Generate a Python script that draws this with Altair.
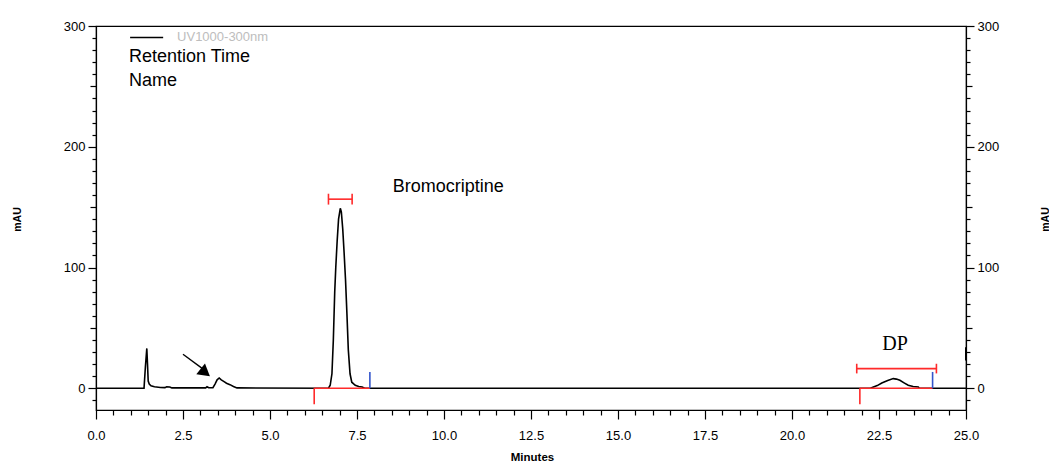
import altair as alt
import pandas as pd

# ---- chromatogram trace (minutes, mAU) ----
trace_t = [0.0, 1.38, 1.42, 1.46, 1.48, 1.50, 1.53, 1.58, 1.68, 1.85, 1.98, 2.03, 2.12, 2.18,
           3.15, 3.19, 3.24, 3.36, 3.42, 3.48, 3.54, 3.60, 3.68, 3.75, 3.85, 3.95, 4.05,
           6.68, 6.73, 6.78, 6.82, 6.86, 6.89, 6.93, 6.97, 7.02, 7.05, 7.09, 7.13, 7.17, 7.21,
           7.25, 7.30, 7.35, 7.45, 7.55, 7.65, 7.72,
           22.25, 22.34, 22.45, 22.58, 22.75, 22.91, 23.0, 23.1, 23.22, 23.34, 23.48, 23.63, 23.66,
           25.0]
trace_v = [0.0, 0.0, 18.0, 33.0, 20.0, 6.0, 3.5, 2.0, 1.2, 0.6, 0.5, 1.3, 1.1, 0.3,
           0.3, 1.2, 0.4, 0.5, 3.5, 7.0, 8.5, 7.0, 5.5, 4.2, 3.0, 1.5, 0.3,
           0.0, 2.5, 12.0, 40.0, 80.0, 100.0, 122.0, 140.0, 149.0, 146.0, 132.0, 112.0, 90.0, 62.0,
           32.0, 12.0, 5.0, 2.5, 1.5, 1.0, 0.0,
           0.0, 1.0, 2.2, 4.4, 6.5, 8.0, 7.6, 6.6, 4.5, 2.5, 1.4, 1.0, 0.0,
           0.0]

# ---- integration marks ----
base_start = [6.27, 21.95]        # red baseline start (with red drop tick)
base_end = [7.87, 24.04]          # baseline end (blue tick)
drop_low = [-13.3, -13.3]
blue_top = [13.5, 13.5]
bar_left = [6.68, 21.86]          # red retention-window bars
bar_right = [7.36, 24.15]
bar_level = [156.6, 16.3]
cap_half = [4.5, 4.0]

# ---- annotations ----
label_text = ["Bromocriptine", "DP"]
label_t = [8.53, 22.96]
label_v = [167.0, 37.0]
arrow_t = [2.5, 3.05]
arrow_v = [28.2, 16.5]
arrowhead_t = [3.14]
arrowhead_v = [13.0]
edge_t = [25.0]
edge_v = [23.0]
edge_v2 = [34.0]

legend_line_t = [0.98]
legend_line_t2 = [1.93]
legend_line_v = [290.5]
legend_title = ["UV1000-300nm"]
legend_title_t = [2.33]
legend_rows = ["Retention Time", "Name"]
legend_rows_t = [0.95, 0.95]
legend_rows_v = [274.5, 254.5]

x_ticks = [i * 0.5 for i in range(0, 51)]
y_ticks = [v for v in range(-10, 301, 10)]

X_SCALE = alt.Scale(domain=[0, 25], nice=False, zero=False)
Y_SCALE = alt.Scale(domain=[-18, 300], nice=False, zero=False)
FONT = "Liberation Sans"

trace = pd.DataFrame({"t": trace_t, "v": trace_v})
marks = pd.DataFrame({"s": base_start, "e": base_end, "lo": drop_low, "bt": blue_top,
                      "bl": bar_left, "br": bar_right, "lvl": bar_level,
                      "clo": [l - c for l, c in zip(bar_level, cap_half)],
                      "chi": [l + c for l, c in zip(bar_level, cap_half)],
                      "zero": [0.0, 0.0]})
labels = pd.DataFrame({"text": label_text, "t": label_t, "v": label_v})

is_major_x = "abs(datum.value/2.5 - round(datum.value/2.5)) < 0.001"

x_axis = alt.Axis(values=x_ticks, labelExpr=f"{is_major_x} ? format(datum.value, '.1f') : ''",
                  tickSize={"condition": {"test": is_major_x, "value": 9}, "value": 5},
                  tickColor="black", domainColor="black", domainWidth=1.2, tickWidth=1.2,
                  labelFont=FONT, labelFontSize=13, labelColor="black", labelPadding=10,
                  labelOverlap=False, labelFlush=False, grid=False,
                  title="Minutes", titleFont=FONT, titleFontSize=11.5, titleFontWeight="bold",
                  titleColor="black", titleX=436, titleY=47, titleAlign="center",
                  titleBaseline="middle")


def y_axis(orient):
    side_x = -79 if orient == "left" else 79
    return alt.Axis(orient=orient, values=y_ticks,
                    labelExpr="datum.value % 100 === 0 && datum.value >= 0 ? format(datum.value, 'd') : ''",
                    tickSize={"condition": [{"test": "datum.value % 100 === 0", "value": 8},
                                            {"test": "datum.value % 50 === 0", "value": 6}],
                              "value": 4},
                    tickColor="black", domainColor="black", domainWidth=1.2, tickWidth=1.2,
                    labelFont=FONT, labelFontSize=13, labelColor="black", labelPadding=3,
                    labelOverlap=False, labelFlush=False, grid=False,
                    title="mAU", titleFont=FONT, titleFontSize=10.5, titleFontWeight="bold",
                    titleColor="black", titleAngle=270, titleX=side_x, titleY=193,
                    titleAlign="center", titleBaseline="middle")


line = alt.Chart(trace).mark_line(color="black", strokeWidth=1.6, interpolate="linear").encode(
    x=alt.X("t:Q", scale=X_SCALE, axis=x_axis),
    y=alt.Y("v:Q", scale=Y_SCALE, axis=y_axis("left")),
)

right_axis_layer = alt.Chart(trace).mark_line(opacity=0).encode(
    x=alt.X("t:Q", scale=X_SCALE, axis=None),
    y=alt.Y("v:Q", scale=Y_SCALE, axis=y_axis("right")),
)


def xq(field):
    return alt.X(field, type="quantitative", scale=X_SCALE, axis=None)


def yq(field):
    return alt.Y(field, type="quantitative", scale=Y_SCALE, axis=None)


red = "#ff2a2a"
blue = "#3355cc"

baseline = alt.Chart(marks).mark_rule(color=red, strokeWidth=1.6).encode(
    x=xq("s"), x2="e", y=yq("zero"))
drop = alt.Chart(marks).mark_rule(color=red, strokeWidth=1.6).encode(
    x=xq("s"), y=yq("lo"), y2="zero")
bluetick = alt.Chart(marks).mark_rule(color=blue, strokeWidth=1.6).encode(
    x=xq("e"), y=yq("bt"), y2="zero")
bar = alt.Chart(marks).mark_rule(color=red, strokeWidth=1.6).encode(
    x=xq("bl"), x2="br", y=yq("lvl"))
cap_l = alt.Chart(marks).mark_rule(color=red, strokeWidth=1.6).encode(
    x=xq("bl"), y=yq("clo"), y2="chi")
cap_r = alt.Chart(marks).mark_rule(color=red, strokeWidth=1.6).encode(
    x=xq("br"), y=yq("clo"), y2="chi")

brom_text = alt.Chart(labels).transform_filter("datum.text === 'Bromocriptine'").mark_text(
    font=FONT, fontSize=18, color="black", align="left", baseline="middle").encode(
    x=xq("t"), y=yq("v"), text="text:N")
dp_text = alt.Chart(labels).transform_filter("datum.text === 'DP'").mark_text(
    font="Liberation Serif", fontSize=20, color="black", align="center", baseline="middle").encode(
    x=xq("t"), y=yq("v"), text="text:N")

arrow_df = pd.DataFrame({"t": arrow_t, "v": arrow_v})
arrow = alt.Chart(arrow_df).mark_line(color="black", strokeWidth=1.4).encode(x=xq("t"), y=yq("v"))
head = alt.Chart(pd.DataFrame({"t": arrowhead_t, "v": arrowhead_v})).mark_point(
    shape="triangle-up", filled=True, color="black", size=190, angle=129, opacity=1).encode(
    x=xq("t"), y=yq("v"))

edge = alt.Chart(pd.DataFrame({"t": edge_t, "v": edge_v, "v2": edge_v2})).mark_rule(
    color="black", strokeWidth=2, clip=False).encode(x=xq("t"), y=yq("v"), y2="v2")

leg_line = alt.Chart(pd.DataFrame({"t": legend_line_t, "t2": legend_line_t2, "v": legend_line_v})).mark_rule(
    color="black", strokeWidth=1.6).encode(x=xq("t"), x2="t2", y=yq("v"))
leg_title = alt.Chart(pd.DataFrame({"text": legend_title, "t": legend_title_t, "v": legend_line_v})).mark_text(
    font=FONT, fontSize=13, color="#bdbdbd", align="left", baseline="middle").encode(
    x=xq("t"), y=yq("v"), text="text:N")
leg_rows = alt.Chart(pd.DataFrame({"text": legend_rows, "t": legend_rows_t, "v": legend_rows_v})).mark_text(
    font=FONT, fontSize=18, color="black", align="left", baseline="middle").encode(
    x=xq("t"), y=yq("v"), text="text:N")

chart = alt.layer(
    line, right_axis_layer, baseline, drop, bluetick, bar, cap_l, cap_r,
    brom_text, dp_text, arrow, head, edge, leg_line, leg_title, leg_rows,
).resolve_axis(x="independent", y="independent").properties(
    width=870, height=384,
    autosize=alt.AutoSizeParams(type="none"),
    padding={"left": 96, "top": 26, "right": 83, "bottom": 53},
    background="white",
).configure_view(stroke="black", strokeWidth=1.2)

chart.save("out.html", embed_options={"renderer": "svg", "actions": False})
